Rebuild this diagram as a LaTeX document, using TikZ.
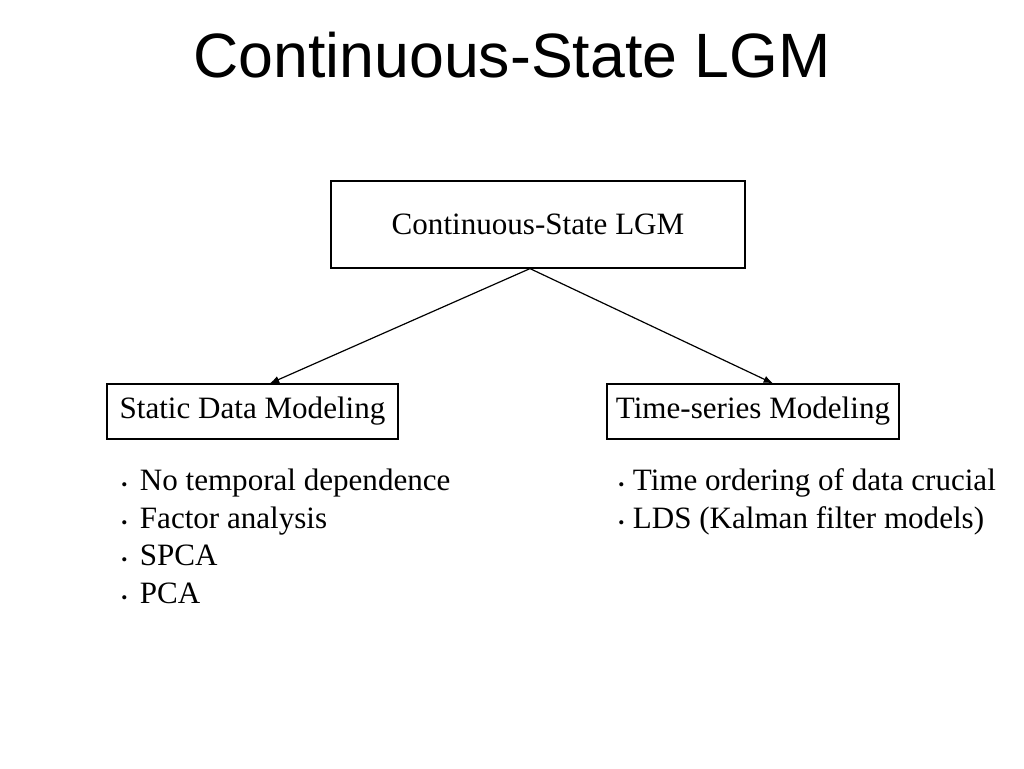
\documentclass[tikz,border=0pt]{standalone}
\usepackage{fontspec}
\setmainfont{Liberation Serif}
\newfontfamily\titlefont{Liberation Sans}
\usetikzlibrary{arrows.meta}
\begin{document}
\begin{tikzpicture}[x=0.75pt,y=-0.75pt,
  box/.style={draw,line width=0.9pt,inner sep=0pt,font=\fontsize{23.3}{28}\selectfont},
  item/.style={anchor=base west,inner sep=0pt,font=\fontsize{23.3}{28}\selectfont},
  conn/.style={line width=0.9pt,-{Latex[length=7pt,width=5.5pt]}}]
\fill[white] (0,0) rectangle (1024,768);
\useasboundingbox (0,0) rectangle (1024,768);
\node[inner sep=0pt,font=\titlefont\fontsize{47}{56}\selectfont] (title) at (512,55) {Continuous-State LGM};
\node[box,minimum width=414*0.75pt,minimum height=87*0.75pt] (top) at (538,224.5) {Continuous-State LGM};
\node[box,minimum width=291*0.75pt,minimum height=55*0.75pt] (static) at (252.5,411.5) {Static Data Modeling};
\node[box,minimum width=292*0.75pt,minimum height=55*0.75pt] (time) at (753,411.5) {Time-series Modeling};
\draw[conn] ([xshift=-6pt]top.south) -- ([xshift=13pt]static.north);
\draw[conn] ([xshift=-6pt]top.south) -- ([xshift=15pt]time.north);
\newcommand{\smallbul}[1]{\makebox[#1][l]{\fontsize{13}{13}\selectfont\textbullet}}
\node[item] (l1) at (121,490) {\smallbul{14pt}No temporal dependence};
\node[item] (l2) at (121,528) {\smallbul{14pt}Factor analysis};
\node[item] (l3) at (121,565) {\smallbul{14pt}SPCA};
\node[item] (l4) at (121,603) {\smallbul{14pt}PCA};
\node[item] (r1) at (618,490) {\smallbul{11pt}Time ordering of data crucial};
\node[item] (r2) at (618,528) {\smallbul{11pt}LDS (Kalman filter models)};
\end{tikzpicture}
\end{document}
